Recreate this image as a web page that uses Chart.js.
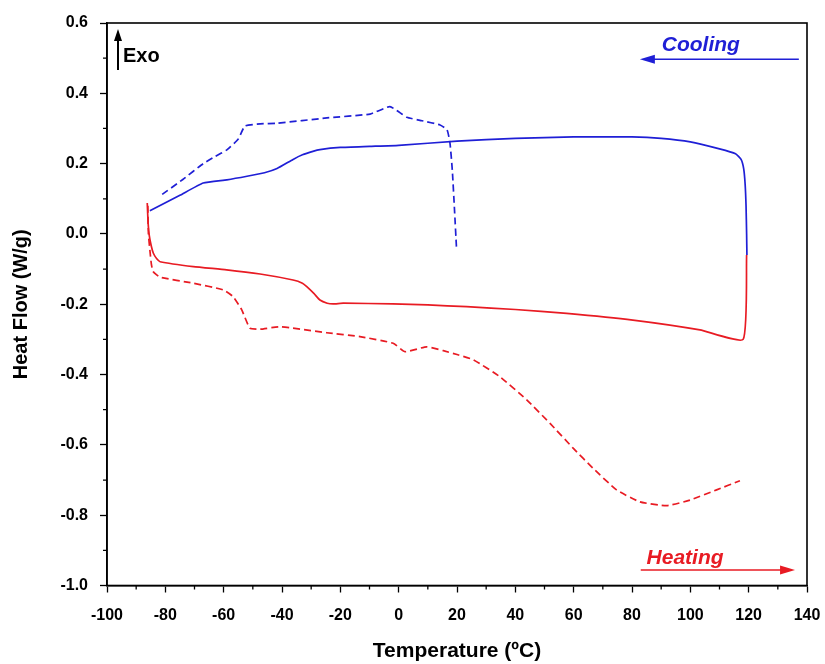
<!DOCTYPE html>
<html>
<head>
<meta charset="utf-8">
<script src="https://cdn.jsdelivr.net/npm/chart.js@4"></script>
<style>
  html, body { margin: 0; padding: 0; background: #fff; }
  #wrap { width: 825px; height: 664px; }
</style>
</head>
<body>
<div id="wrap"><canvas id="c" width="825" height="664"></canvas></div>
<script>
/* DSC curves: heat flow vs temperature */
const coolSolidX = [119.4, 119.3, 119.1, 118.8, 118.3, 117.4, 115.5, 110, 100, 90, 80, 60, 40, 20, 0, -10, -20, -27, -29.4, -33, -36.2, -41.7, -46, -52, -58.9, -67, -75, -85.3];
const coolSolidY = [-0.06, 0.0, 0.08, 0.14, 0.185, 0.212, 0.228, 0.242, 0.262, 0.272, 0.276, 0.276, 0.272, 0.264, 0.252, 0.249, 0.246, 0.24, 0.235, 0.225, 0.212, 0.186, 0.174, 0.164, 0.154, 0.145, 0.11, 0.066];

const coolDashX = [19.8, 19.2, 18.4, 17.6, 16.6, 14.2, 8, 2.8, -3, -9.8, -24.6, -41.7, -47.5, -52.7, -55, -58.9, -63, -67, -74, -81.8];
const coolDashY = [-0.036, 0.06, 0.18, 0.258, 0.296, 0.31, 0.322, 0.332, 0.362, 0.341, 0.33, 0.315, 0.313, 0.307, 0.27, 0.239, 0.22, 0.2, 0.155, 0.108];

const heatSolidX = [-86.2, -85.9, -85.5, -84.8, -84.1, -83, -81.8, -70.4, -59, -47.5, -36.2, -33, -31.5, -29, -27, -24.5, -22.5, -19, -2, 10, 23.3, 40, 57.6, 80.3, 103.3, 118.1, 119.3];
const heatSolidY = [0.088, 0.03, -0.005, -0.035, -0.055, -0.07, -0.079, -0.093, -0.102, -0.114, -0.131, -0.14, -0.15, -0.17, -0.188, -0.197, -0.199, -0.197, -0.199, -0.202, -0.207, -0.215, -0.226, -0.245, -0.273, -0.3, -0.06];

const heatDashX = [-86, -85.8, -85.3, -84.8, -84.2, -81.8, -70.5, -60.2, -56.8, -53.8, -51, -47.5, -40.7, -24.7, -13.3, -1.9, 2.2, 9.6, 15.3, 20, 25.6, 34.7, 43.9, 51.9, 59.9, 66.7, 74.7, 82.7, 91.9, 99.9, 109, 117];
const heatDashY = [0.08, 0.0, -0.046, -0.085, -0.107, -0.123, -0.14, -0.159, -0.178, -0.216, -0.268, -0.271, -0.264, -0.281, -0.292, -0.311, -0.335, -0.321, -0.332, -0.343, -0.358, -0.406, -0.472, -0.539, -0.61, -0.667, -0.728, -0.762, -0.773, -0.757, -0.728, -0.702];

const xTicks = [-100, -80, -60, -40, -20, 0, 20, 40, 60, 80, 100, 120, 140];
const yTicks = [-1.0, -0.8, -0.6, -0.4, -0.2, 0.0, 0.2, 0.4, 0.6];

const BLUE = "#1f1fd6";
const RED = "#e81b23";
const FONT = "'Liberation Sans', Arial, sans-serif";

function pts(xs, ys) {
  return xs.map((x, i) => ({ x: x, y: ys[i] }));
}

// frame, minor ticks and the Exo / Cooling / Heating notes
const extras = {
  id: "extras",
  afterDraw(chart) {
    const ctx = chart.ctx;
    const a = chart.chartArea;
    const xs = chart.scales.x, ys = chart.scales.y;
    ctx.save();
    ctx.strokeStyle = "#000";
    ctx.lineWidth = 1.6;
    ctx.strokeRect(a.left, a.top, a.right - a.left, a.bottom - a.top);

    ctx.lineWidth = 1.3;
    ctx.beginPath();
    for (let v = -90; v < 140; v += 20) {
      const p = xs.getPixelForValue(v);
      ctx.moveTo(p, a.bottom);
      ctx.lineTo(p, a.bottom + 4);
    }
    for (let v = -0.9; v < 0.6; v += 0.2) {
      const p = ys.getPixelForValue(v);
      ctx.moveTo(a.left, p);
      ctx.lineTo(a.left - 4, p);
    }
    ctx.stroke();

    // Exo arrow
    const ex = a.left + 11;
    ctx.fillStyle = "#000";
    ctx.lineWidth = 2;
    ctx.beginPath();
    ctx.moveTo(ex, a.top + 47);
    ctx.lineTo(ex, a.top + 12);
    ctx.stroke();
    ctx.beginPath();
    ctx.moveTo(ex, a.top + 6);
    ctx.lineTo(ex - 4, a.top + 18);
    ctx.lineTo(ex + 4, a.top + 18);
    ctx.closePath();
    ctx.fill();
    ctx.font = "bold 20px " + FONT;
    ctx.textBaseline = "middle";
    ctx.textAlign = "left";
    ctx.fillText("Exo", ex + 5, a.top + 33);

    // Cooling
    const cy = ys.getPixelForValue(0.497);
    const c0 = xs.getPixelForValue(82.7), c1 = xs.getPixelForValue(137.2);
    ctx.strokeStyle = BLUE;
    ctx.fillStyle = BLUE;
    ctx.lineWidth = 1.5;
    ctx.beginPath();
    ctx.moveTo(c0 + 10, cy);
    ctx.lineTo(c1, cy);
    ctx.stroke();
    ctx.beginPath();
    ctx.moveTo(c0, cy);
    ctx.lineTo(c0 + 15, cy - 4.5);
    ctx.lineTo(c0 + 15, cy + 4.5);
    ctx.closePath();
    ctx.fill();
    ctx.font = "italic bold 21px " + FONT;
    ctx.textAlign = "center";
    ctx.fillText("Cooling", xs.getPixelForValue(103.6), ys.getPixelForValue(0.538));

    // Heating
    const hy = ys.getPixelForValue(-0.956);
    const h0 = xs.getPixelForValue(83), h1 = xs.getPixelForValue(135.9);
    ctx.strokeStyle = RED;
    ctx.fillStyle = RED;
    ctx.beginPath();
    ctx.moveTo(h0, hy);
    ctx.lineTo(h1 - 10, hy);
    ctx.stroke();
    ctx.beginPath();
    ctx.moveTo(h1, hy);
    ctx.lineTo(h1 - 15, hy - 4.5);
    ctx.lineTo(h1 - 15, hy + 4.5);
    ctx.closePath();
    ctx.fill();
    ctx.fillText("Heating", xs.getPixelForValue(98.2), ys.getPixelForValue(-0.922));
    ctx.restore();
  },
};

const line = (data, color, dash) => ({
  data: data,
  borderColor: color,
  borderWidth: 1.7,
  borderDash: dash ? [7, 4] : [],
  pointRadius: 0,
  tension: 0.15,
  fill: false,
});

new Chart(document.getElementById("c"), {
  type: "line",
  data: {
    datasets: [
      line(pts(heatDashX, heatDashY), RED, true),
      line(pts(heatSolidX, heatSolidY), RED, false),
      line(pts(coolDashX, coolDashY), BLUE, true),
      line(pts(coolSolidX, coolSolidY), BLUE, false),
    ],
  },
  options: {
    responsive: false,
    animation: false,
    layout: { padding: { top: 23, right: 18, left: 0, bottom: 0 } },
    plugins: { legend: { display: false }, tooltip: { enabled: false } },
    scales: {
      x: {
        type: "linear",
        min: -100,
        max: 140,
        afterBuildTicks: (s) => (s.ticks = xTicks.map((v) => ({ value: v }))),
        afterFit: (s) => {
          s.height = 78.5;
          s.paddingLeft = 0;
          s.paddingRight = 0;
        },
        grid: { drawOnChartArea: false, tickLength: 7, tickWidth: 1.3, tickColor: "#000" },
        border: { color: "#000", width: 1.6 },
        ticks: { color: "#000", padding: 13, maxRotation: 0, font: { family: FONT, size: 16, weight: "bold" } },
        title: {
          display: true,
          text: "Temperature (ºC)",
          color: "#000",
          padding: { top: 4, bottom: 0 },
          font: { family: FONT, size: 21, weight: "bold" },
        },
      },
      y: {
        type: "linear",
        min: -1.0,
        max: 0.6,
        afterBuildTicks: (s) => (s.ticks = yTicks.map((v) => ({ value: v }))),
        afterFit: (s) => (s.width = 107),
        grid: { drawOnChartArea: false, tickLength: 7, tickWidth: 1.3, tickColor: "#000" },
        border: { color: "#000", width: 1.6 },
        ticks: { color: "#000", padding: 12, callback: (v) => v.toFixed(1), font: { family: FONT, size: 16, weight: "bold" } },
        title: {
          display: true,
          text: "Heat Flow (W/g)",
          color: "#000",
          padding: { top: 9, bottom: 0 },
          font: { family: FONT, size: 20, weight: "bold" },
        },
      },
    },
  },
  plugins: [extras],
});
</script>
</body>
</html>
